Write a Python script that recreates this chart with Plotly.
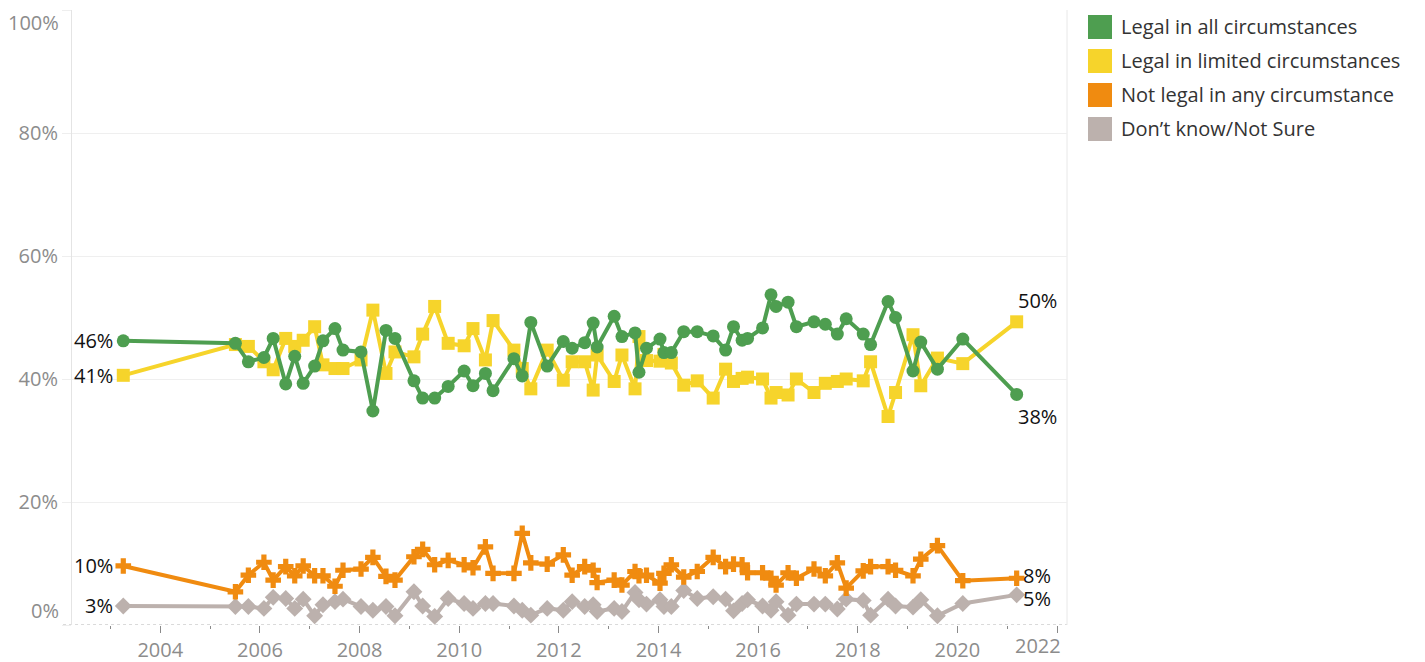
import plotly.graph_objects as go

# ---------------- data ----------------
dates = [
    "2003-04-05", "2005-07-05", "2005-10-08", "2006-01-30", "2006-04-08", "2006-07-09",
    "2006-09-13", "2006-11-14", "2007-02-06", "2007-04-08", "2007-07-05", "2007-09-02",
    "2008-01-12", "2008-04-08", "2008-07-13", "2008-09-17", "2009-02-03", "2009-04-08",
    "2009-07-05", "2009-10-12", "2010-02-06", "2010-04-12", "2010-07-12", "2010-09-06",
    "2011-02-06", "2011-04-08", "2011-06-10", "2011-10-08", "2012-02-03", "2012-04-08",
    "2012-07-09", "2012-09-09", "2012-10-08", "2013-02-10", "2013-04-08", "2013-07-13",
    "2013-08-11", "2013-10-05", "2014-01-12", "2014-02-10", "2014-04-05", "2014-07-05",
    "2014-10-12", "2015-02-06", "2015-05-08", "2015-07-05", "2015-09-06", "2015-10-16",
    "2016-02-03", "2016-04-05", "2016-05-12", "2016-08-08", "2016-10-08", "2017-02-14",
    "2017-05-08", "2017-08-04", "2017-10-08", "2018-02-10", "2018-04-05", "2018-08-11",
    "2018-10-05", "2019-02-10", "2019-04-08", "2019-08-08", "2020-02-10", "2021-03-11",
]

legal_all = [
    46.2, 45.8, 42.8, 43.5, 46.6, 39.2, 43.7, 39.3, 42.1, 46.2,
    48.2, 44.7, 44.4, 34.8, 47.9, 46.6, 39.7, 36.9, 36.9, 38.8,
    41.3, 38.9, 40.9, 38.1, 43.3, 40.5, 49.2, 42.1, 46.1, 45.0,
    45.9, 49.1, 45.2, 50.2, 46.9, 47.5, 41.1, 45.0, 46.5, 44.3,
    44.3, 47.7, 47.7, 47.0, 44.7, 48.5, 46.3, 46.6, 48.3, 53.7,
    51.8, 52.5, 48.5, 49.3, 48.9, 47.3, 49.8, 47.3, 45.6, 52.6,
    50.0, 41.3, 46.0, 41.6, 46.5, 37.5,
]

legal_limited = [
    40.6, 45.6, 45.3, 42.8, 41.5, 46.6, 45.3, 46.3, 48.5, 42.3,
    41.7, 41.7, 43.1, 51.2, 40.9, 44.4, 43.6, 47.3, 51.8, 45.8,
    45.4, 48.2, 43.1, 49.5, 44.7, 41.7, 38.4, 44.7, 39.8, 42.8,
    42.8, 38.2, 43.9, 39.6, 43.9, 38.4, 46.9, 43.0, 42.9, 44.0,
    42.6, 39.0, 39.7, 36.9, 41.6, 39.6, 40.1, 40.3, 40.0, 36.9,
    37.8, 37.4, 40.0, 37.8, 39.3, 39.6, 40.0, 39.7, 42.8, 33.9,
    37.8, 47.2, 38.9, 43.4, 42.5, 49.3,
]

not_legal = [
    9.6, 5.4, 8.1, 10.2, 7.3, 9.5, 8.0, 9.6, 8.0, 8.0,
    6.3, 8.9, 9.1, 11.0, 7.9, 7.3, 11.1, 12.3, 9.8, 10.5,
    9.8, 9.3, 12.7, 8.4, 8.4, 14.9, 10.1, 9.9, 11.4, 8.1,
    9.5, 8.9, 6.9, 7.3, 6.5, 8.7, 8.0, 8.1, 6.8, 8.4,
    9.8, 7.8, 8.7, 11.0, 9.5, 9.9, 9.8, 8.5, 8.5, 7.6,
    6.5, 8.5, 7.6, 9.1, 8.0, 10.1, 6.0, 8.8, 9.5, 9.5,
    8.9, 8.0, 10.7, 12.9, 7.2, 7.6,
]

dont_know = [
    3.1, 3.0, 3.0, 2.7, 4.5, 4.3, 2.7, 4.2, 1.5, 3.3,
    3.8, 4.2, 3.0, 2.4, 3.0, 1.5, 5.4, 3.1, 1.4, 4.3,
    3.5, 2.7, 3.5, 3.5, 3.1, 2.4, 1.6, 2.7, 2.4, 3.8,
    3.0, 3.3, 2.2, 2.7, 2.2, 5.3, 4.1, 3.4, 4.1, 3.0,
    3.0, 5.6, 4.3, 4.6, 4.2, 2.3, 3.5, 4.1, 3.1, 2.4,
    3.8, 1.6, 3.4, 3.4, 3.4, 2.6, 4.2, 4.0, 1.6, 4.2,
    3.1, 2.9, 4.1, 1.5, 3.5, 4.9,
]

series_names = [
    "Legal in all circumstances",
    "Legal in limited circumstances",
    "Not legal in any circumstance",
    "Don’t know/Not Sure",
]
series_values = [legal_all, legal_limited, not_legal, dont_know]
start_labels = ["46%", "41%", "10%", "3%"]
end_labels = ["38%", "50%", "8%", "5%"]

x_tick_years = ["2004", "2006", "2008", "2010", "2012", "2014", "2016", "2018", "2020", "2022"]
y_tick_vals = [0, 20, 40, 60, 80, 100]
y_tick_text = ["", "20%", "40%", "60%", "80%", ""]

# ---------------- styling ----------------
colors = ["#4e9e50", "#f6d42b", "#f08b10", "#bcb1ad"]
symbols = ["circle", "square", "cross", "diamond"]
marker_sizes = [13, 13, 13, 13]

# page body has an 8px default margin: size the figure to fit the window
PAGE_OFF = 8
W, H = 1425 - PAGE_OFF, 662 - PAGE_OFF
# plot-area edges in window pixels
L_WIN, R_WIN, T_WIN, B_WIN = 72, 1067, 10, 625
L, R, T, B = L_WIN - PAGE_OFF, R_WIN - PAGE_OFF, T_WIN - PAGE_OFF, B_WIN - PAGE_OFF
FONT = "Open Sans, Noto Sans, sans-serif"

fig = go.Figure()

draw_order = [3, 2, 1, 0]
for i in draw_order:
    fig.add_trace(go.Scatter(
        x=dates, y=series_values[i], name=series_names[i],
        mode="lines+markers",
        line=dict(color=colors[i], width=4),
        marker=dict(symbol=symbols[i], size=marker_sizes[i], color=colors[i],
                    line=dict(width=0)),
        showlegend=False,
        hovertemplate="%{x|%b %Y}: %{y:.0f}%<extra>" + series_names[i] + "</extra>",
    ))

label_font = dict(family=FONT, size=20, color="#111111")
tick_font = dict(family=FONT, size=20, color="#8c8c8c")

annotations = []
for i in range(4):
    annotations.append(dict(
        x=dates[0], y=series_values[i][0], xref="x", yref="y",
        text=start_labels[i], showarrow=False, xanchor="right", yanchor="middle",
        xshift=-8, font=label_font))

annotations.append(dict(x=dates[-1], y=legal_all[-1], xref="x", yref="y",
                        text=end_labels[0], showarrow=False, xanchor="center",
                        yanchor="middle", xshift=21, yshift=-22, font=label_font))
annotations.append(dict(x=dates[-1], y=legal_limited[-1], xref="x", yref="y",
                        text=end_labels[1], showarrow=False, xanchor="center",
                        yanchor="middle", xshift=21, yshift=21, font=label_font))
annotations.append(dict(x=dates[-1], y=not_legal[-1], xref="x", yref="y",
                        text=end_labels[2], showarrow=False, xanchor="left",
                        yanchor="middle", xshift=4, yshift=3, font=label_font))
annotations.append(dict(x=dates[-1], y=dont_know[-1], xref="x", yref="y",
                        text=end_labels[3], showarrow=False, xanchor="left",
                        yanchor="middle", xshift=4, yshift=-4, font=label_font))

# y end labels nudged inside, as in the original
annotations.append(dict(x=0, y=0, xref="paper", yref="y", text="0%", showarrow=False,
                        xanchor="right", yanchor="middle", xshift=-11, yshift=15,
                        font=tick_font))
annotations.append(dict(x=0, y=100, xref="paper", yref="y", text="100%", showarrow=False,
                        xanchor="right", yanchor="middle", xshift=-11, yshift=-12,
                        font=tick_font))
# last x label pulled inside the axis end
annotations.append(dict(x=1, y=0, xref="paper", yref="paper", text=x_tick_years[-1],
                        showarrow=False, xanchor="right", yanchor="middle",
                        xshift=-4, yshift=-20, font=tick_font))


def px_x(px):
    return (px - L_WIN) / (R_WIN - L_WIN)


def px_y(py):
    return (B_WIN - py) / (B_WIN - T_WIN)


shapes = []
leg_top = 15
leg_step = 34
for i in range(4):
    y0 = leg_top + i * leg_step
    shapes.append(dict(type="rect", xref="paper", yref="paper",
                       x0=px_x(1088), x1=px_x(1112), y0=px_y(y0 + 24), y1=px_y(y0),
                       fillcolor=colors[i], line=dict(width=0)))
    annotations.append(dict(x=px_x(1119), y=px_y(y0 + 12), xref="paper", yref="paper",
                            text=series_names[i], showarrow=False, xanchor="left",
                            yanchor="middle",
                            font=dict(family=FONT, size=20, color="#333333")))

shapes.append(dict(type="line", xref="paper", yref="y", x0=-0.009, x1=1, y0=0, y1=0,
                   line=dict(color="#b5b5b5", width=1, dash="dot"), layer="below"))
shapes.append(dict(type="line", xref="paper", yref="paper", x0=1, x1=1, y0=0, y1=1,
                   line=dict(color="#e8e8e8", width=1), layer="below"))

x_tick_vals = [y + "-01-01" for y in x_tick_years]
x_tick_text = x_tick_years[:-1] + [""]

fig.update_layout(
    width=W, height=H,
    margin=dict(l=L, r=W - R, t=T, b=H - B, autoexpand=False),
    paper_bgcolor="white", plot_bgcolor="white",
    showlegend=False,
    annotations=annotations,
    shapes=shapes,
    xaxis=dict(
        type="date", automargin=False,
        range=["2002-03-25", "2022-03-15"],
        tickvals=x_tick_vals, ticktext=x_tick_text,
        ticks="outside", ticklen=7, tickwidth=1, tickcolor="#8a8a8a",
        tickfont=tick_font,
        minor=dict(tick0="2003-01-01", dtick="M12", ticks="outside", ticklen=3,
                   tickcolor="#8a8a8a", showgrid=False),
        showgrid=False, zeroline=False, showline=False,
    ),
    yaxis=dict(
        range=[0, 100], automargin=False,
        tickvals=y_tick_vals, ticktext=y_tick_text,
        ticks="outside", ticklen=9, tickcolor="#eeeeee",
        tickfont=tick_font,
        showgrid=True, gridcolor="#efefef", gridwidth=1,
        zeroline=False, showline=True, linecolor="#e4e4e4", linewidth=1,
    ),
)

fig.write_html("out.html")
